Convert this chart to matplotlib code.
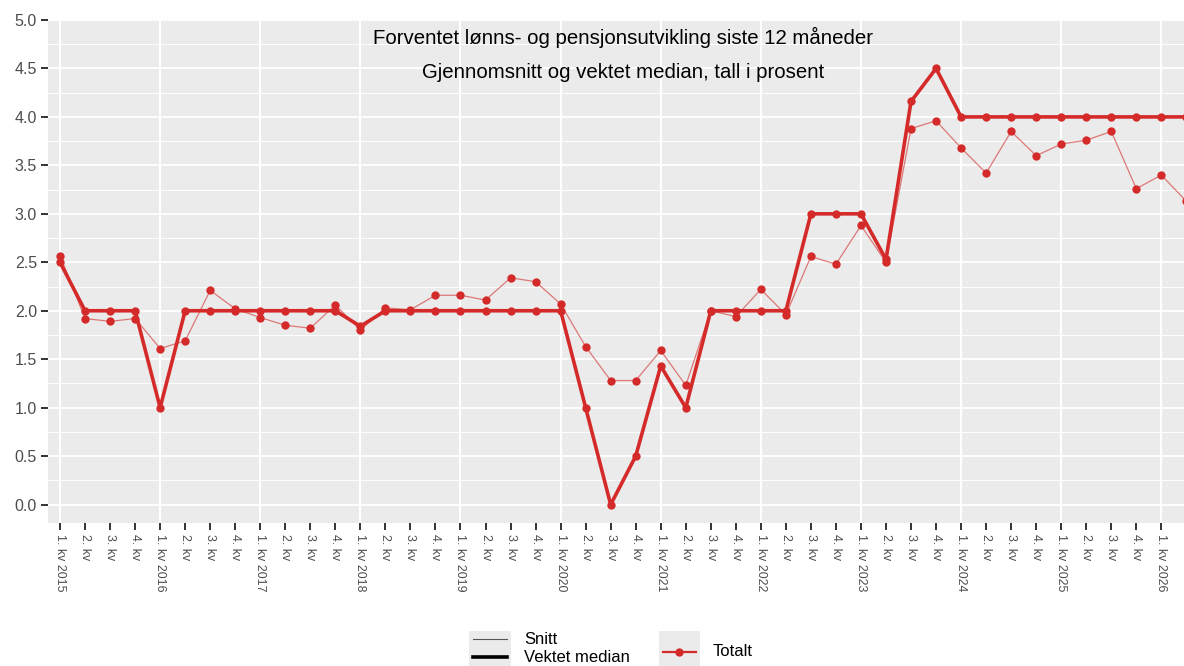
import matplotlib
matplotlib.use("Agg")
import matplotlib.pyplot as plt
from matplotlib.lines import Line2D
from matplotlib.patches import Rectangle
import numpy as np

plt.rcParams['font.family'] = ['Liberation Sans', 'DejaVu Sans']

years = list(range(2015, 2027))
quarters = []
for y in years:
    for q in range(1, 5):
        quarters.append(f"{q}. kv {y}" if q == 1 else f"{q}. kv")
quarters = quarters[:46]

snitt = [2.57, 1.92, 1.89, 1.92, 1.61, 1.69, 2.21, 2.02,
         1.93, 1.85, 1.82, 2.06, 1.80, 2.03, 2.01, 2.16,
         2.16, 2.11, 2.34, 2.30, 2.07, 1.63, 1.28, 1.28,
         1.59, 1.23, 2.00, 1.94, 2.22, 1.96, 2.56, 2.48,
         2.88, 2.50, 3.88, 3.96, 3.68, 3.42, 3.85, 3.60,
         3.72, 3.76, 3.85, 3.26, 3.40, 3.13]
median = [2.50, 2.00, 2.00, 2.00, 1.00, 2.00, 2.00, 2.00,
          2.00, 2.00, 2.00, 2.00, 1.84, 2.00, 2.00, 2.00,
          2.00, 2.00, 2.00, 2.00, 2.00, 1.00, 0.00, 0.50,
          1.43, 1.00, 2.00, 2.00, 2.00, 2.00, 3.00, 3.00,
          3.00, 2.53, 4.16, 4.50, 4.00, 4.00, 4.00, 4.00,
          4.00, 4.00, 4.00, 4.00, 4.00, 4.00]

title = "Forventet lønns- og pensjonsutvikling siste 12 måneder"
subtitle = "Gjennomsnitt og vektet median, tall i prosent"

RED = "#d42a2a"
W, H = 1184, 666
fig = plt.figure(figsize=(W / 100, H / 100), dpi=100)
ax = fig.add_axes([48 / W, (H - 523) / H, 1 - 48 / W + 0.002, (523 - 20) / H])
ax.set_facecolor("#ebebeb")
for s in ax.spines.values():
    s.set_visible(False)

x = np.arange(len(quarters))
ax.set_xlim(-0.48, 45.0)
ax.set_ylim(-0.19, 5.0)

# grid
ax.set_yticks(np.arange(0, 5.01, 0.5))
ax.set_yticks(np.arange(0.25, 5.0, 0.5), minor=True)
ax.set_yticklabels([f"{v:.1f}" for v in np.arange(0, 5.01, 0.5)])
ax.grid(True, which='major', axis='y', color='white', lw=1.3, zorder=0)
ax.grid(True, which='minor', axis='y', color='white', lw=0.7, zorder=0)
for xi in x[::4]:
    ax.axvline(xi, color='white', lw=1.5, zorder=0)
ax.tick_params(axis='y', which='minor', length=0)
ax.set_xticks(x)
ax.set_xticklabels(quarters, rotation=270, fontsize=8.9, color='#4d4d4d', va='top', ha='center')
ax.tick_params(axis='x', length=5, width=1.4, color='#333333', pad=3)
ax.tick_params(axis='y', which='major', length=5, width=1.4, color='#333333', pad=3,
               labelsize=11.5, labelcolor='#4d4d4d')
ax.set_axisbelow(True)

ax.plot(x, snitt, color=RED, lw=0.9, alpha=0.6, zorder=3)
ax.plot(x, snitt, 'o', color=RED, ms=6, zorder=4, mec='none')
ax.plot(x, median, color=RED, lw=2.6, zorder=3, solid_joinstyle='round')
ax.plot(x, median, 'o', color=RED, ms=6, zorder=4, mec='none')

fig.text(623 / W, 1 - 37 / H, title, ha='center', va='center', fontsize=14.7)
fig.text(623 / W, 1 - 72 / H, subtitle, ha='center', va='center', fontsize=14.7)

# legend (bottom)
def fx(px):
    return px / W

def fy(py):
    return 1 - py / H

fig.patches.append(Rectangle((fx(469), fy(666)), fx(511) - fx(469), fy(631) - fy(666),
                             transform=fig.transFigure, facecolor='#ebebeb', edgecolor='none'))
fig.lines.append(Line2D([fx(473), fx(507)], [fy(639), fy(639)], transform=fig.transFigure,
                        color='#555555', lw=0.8))
fig.lines.append(Line2D([fx(473), fx(507)], [fy(657), fy(657)], transform=fig.transFigure,
                        color='black', lw=2.6))
fig.text(fx(524), fy(639), "Snitt", ha='left', va='center', fontsize=12)
fig.text(fx(524), fy(657), "Vektet median", ha='left', va='center', fontsize=12)

fig.patches.append(Rectangle((fx(659), fy(666)), fx(700) - fx(659), fy(631) - fy(666),
                             transform=fig.transFigure, facecolor='#ebebeb', edgecolor='none'))
fig.lines.append(Line2D([fx(663), fx(696)], [fy(652), fy(652)], transform=fig.transFigure,
                        color=RED, lw=1.6))
fig.lines.append(Line2D([fx(679)], [fy(652)], transform=fig.transFigure,
                        color=RED, marker='o', ms=6, mec='none'))
fig.text(fx(713), fy(652), "Totalt", ha='left', va='center', fontsize=12)

fig.savefig("out.png", dpi=100, facecolor='white')
